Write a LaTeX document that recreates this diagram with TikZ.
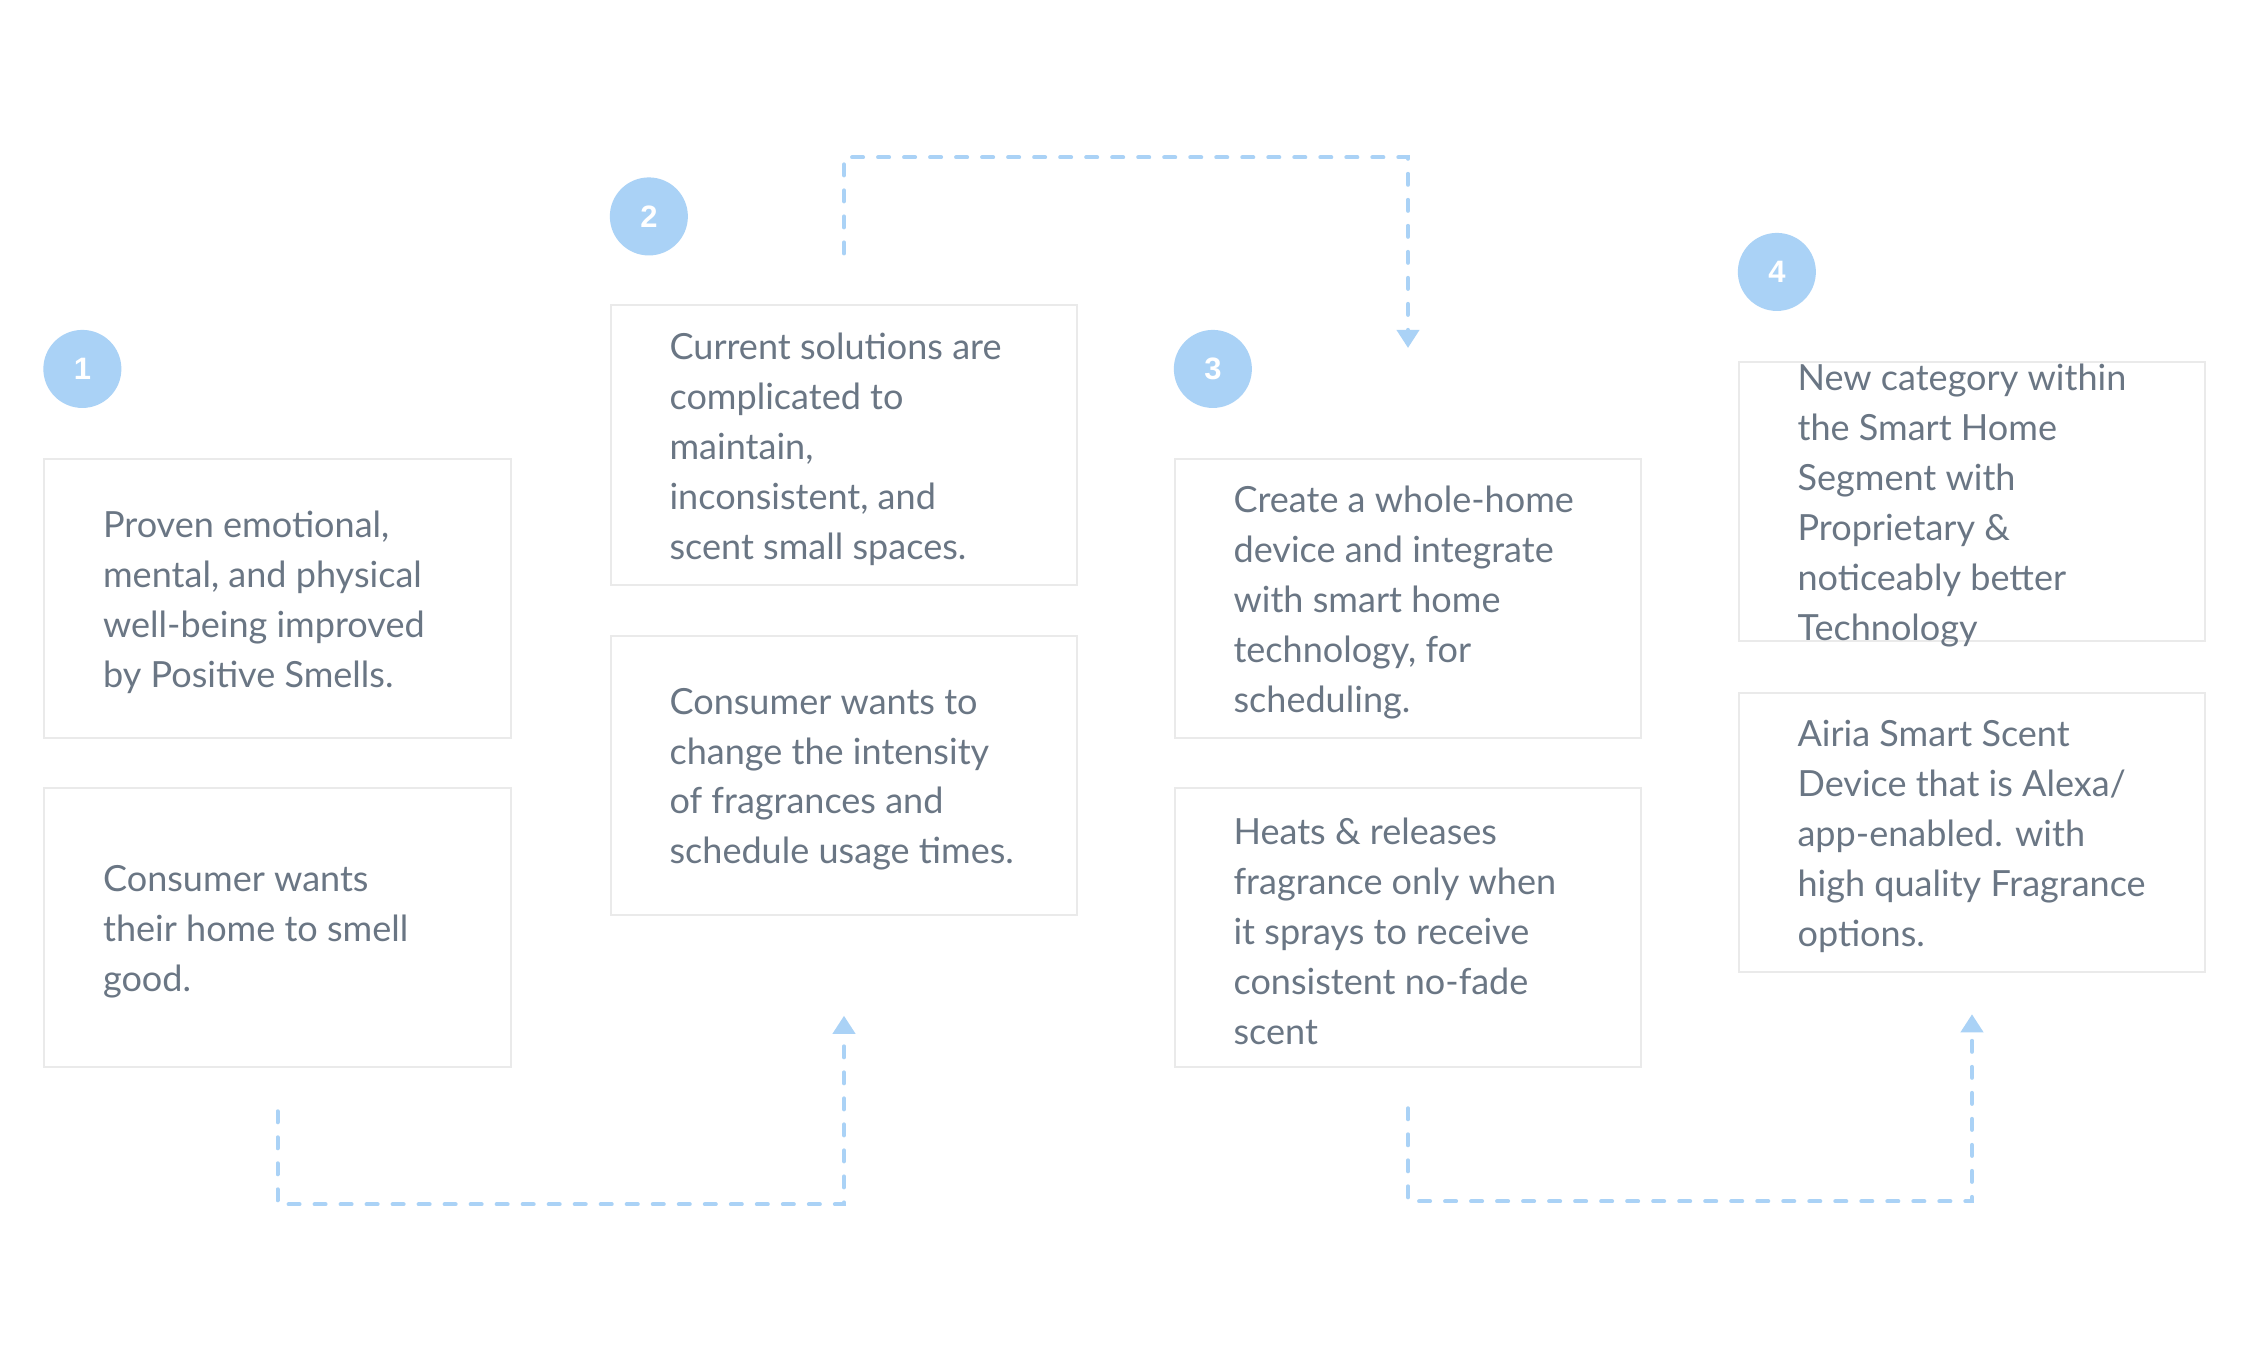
\documentclass[tikz,border=0pt]{standalone}
\usepackage{fontspec}
\setmainfont{Lato}
\newfontfamily\numfont{Liberation Sans}
\usetikzlibrary{positioning,calc,arrows.meta}
\definecolor{txtgray}{HTML}{6A7684}
\definecolor{dotblue}{HTML}{AAD2F6}
\definecolor{edgegray}{HTML}{EAEAEA}

\begin{document}
\begin{tikzpicture}[
    x=0.01cm, y=-0.01cm,
    box/.style = {
      shape=rectangle,
      draw=edgegray,
      line width=0.02cm,
      fill=white,
      minimum width=4.66cm,
      minimum height=2.79cm
    },
    txt/.style = {
      anchor=west, align=left, inner sep=0pt,
      text=txtgray, font=\fontsize{10.25}{14.2}\selectfont
    },
    num/.style = {
      shape=circle, fill=dotblue, minimum size=0.78cm, inner sep=0pt,
      text=white, font=\numfont\bfseries\fontsize{8.8}{10}\selectfont
    },
    flow/.style = {
      draw=dotblue, line width=0.04cm,
      dash pattern=on 0.11cm off 0.15cm, line cap=round,
      -{Triangle[width=0.22cm,length=0.18cm]}
    }
  ]

  \fill[white] (0,0) rectangle (2250,1360);
  \useasboundingbox (0,0) rectangle (2250,1360);

  % boxes, column by column
  \node[box] (b1a) at (277.5,598.5) {};
  \node[box, below=0.48cm of b1a] (b1b) {};
  \node[box] (b2a) at (844,445) {};
  \node[box, below=0.49cm of b2a] (b2b) {};
  \node[box] (b3a) at (1408,598.5) {};
  \node[box, below=0.48cm of b3a] (b3b) {};
  \node[box] (b4a) at (1972,501.5) {};
  \node[box, below=0.50cm of b4a] (b4b) {};

  % step numbers
  \node[num] (n1) at ($(b1a.north west)+(39,-89)$) {1};
  \node[num] (n2) at ($(b2a.north west)+(39,-88)$) {2};
  \node[num] (n3) at ($(b3a.north west)+(39,-89)$) {3};
  \node[num] (n4) at ($(b4a.north west)+(39,-89)$) {4};

  \node[txt] (t1a) at ($(b1a.west)+(59,4)$) {Proven emotional,\\mental, and physical\\well-being improved\\by Positive Smells.};
  \node[txt] (t1b) at ($(b1b.west)+(59,4)$) {Consumer wants\\their home to smell\\good.};
  \node[txt] (t2a) at ($(b2a.west)+(59,4)$) {Current solutions are\\complicated to\\maintain,\\inconsistent, and\\scent small spaces.};
  \node[txt] (t2b) at ($(b2b.west)+(59,4)$) {Consumer wants to\\change the intensity\\of fragrances and\\schedule usage times.};
  \node[txt] (t3a) at ($(b3a.west)+(59,4)$) {Create a whole-home\\device and integrate\\with smart home\\technology, for\\scheduling.};
  \node[txt] (t3b) at ($(b3b.west)+(59,4)$) {Heats \& releases\\fragrance only when\\it sprays to receive\\consistent no-fade\\scent};
  \node[txt] (t4a) at ($(b4a.west)+(59,4)$) {New category within\\the Smart Home\\Segment with\\Proprietary \&\\noticeably better\\Technology};
  \node[txt] (t4b) at ($(b4b.west)+(59,4)$) {Airia Smart Scent\\Device that is Alexa/\\app-enabled. with\\high quality Fragrance\\options.};

  % dashed links
  \draw[flow] ($(b1b.south)+(0,43)$) -- ++(0,93) -| ($(b2b.south)+(0,100)$);
  \draw[flow] ($(b2a.north)+(0,-51)$) -- ++(0,-96) -| ($(b3a.north)+(0,-110)$);
  \draw[flow] ($(b3b.south)+(0,40)$) -- ++(0,93) -| ($(b4b.south)+(0,41)$);

\end{tikzpicture}
\end{document}
